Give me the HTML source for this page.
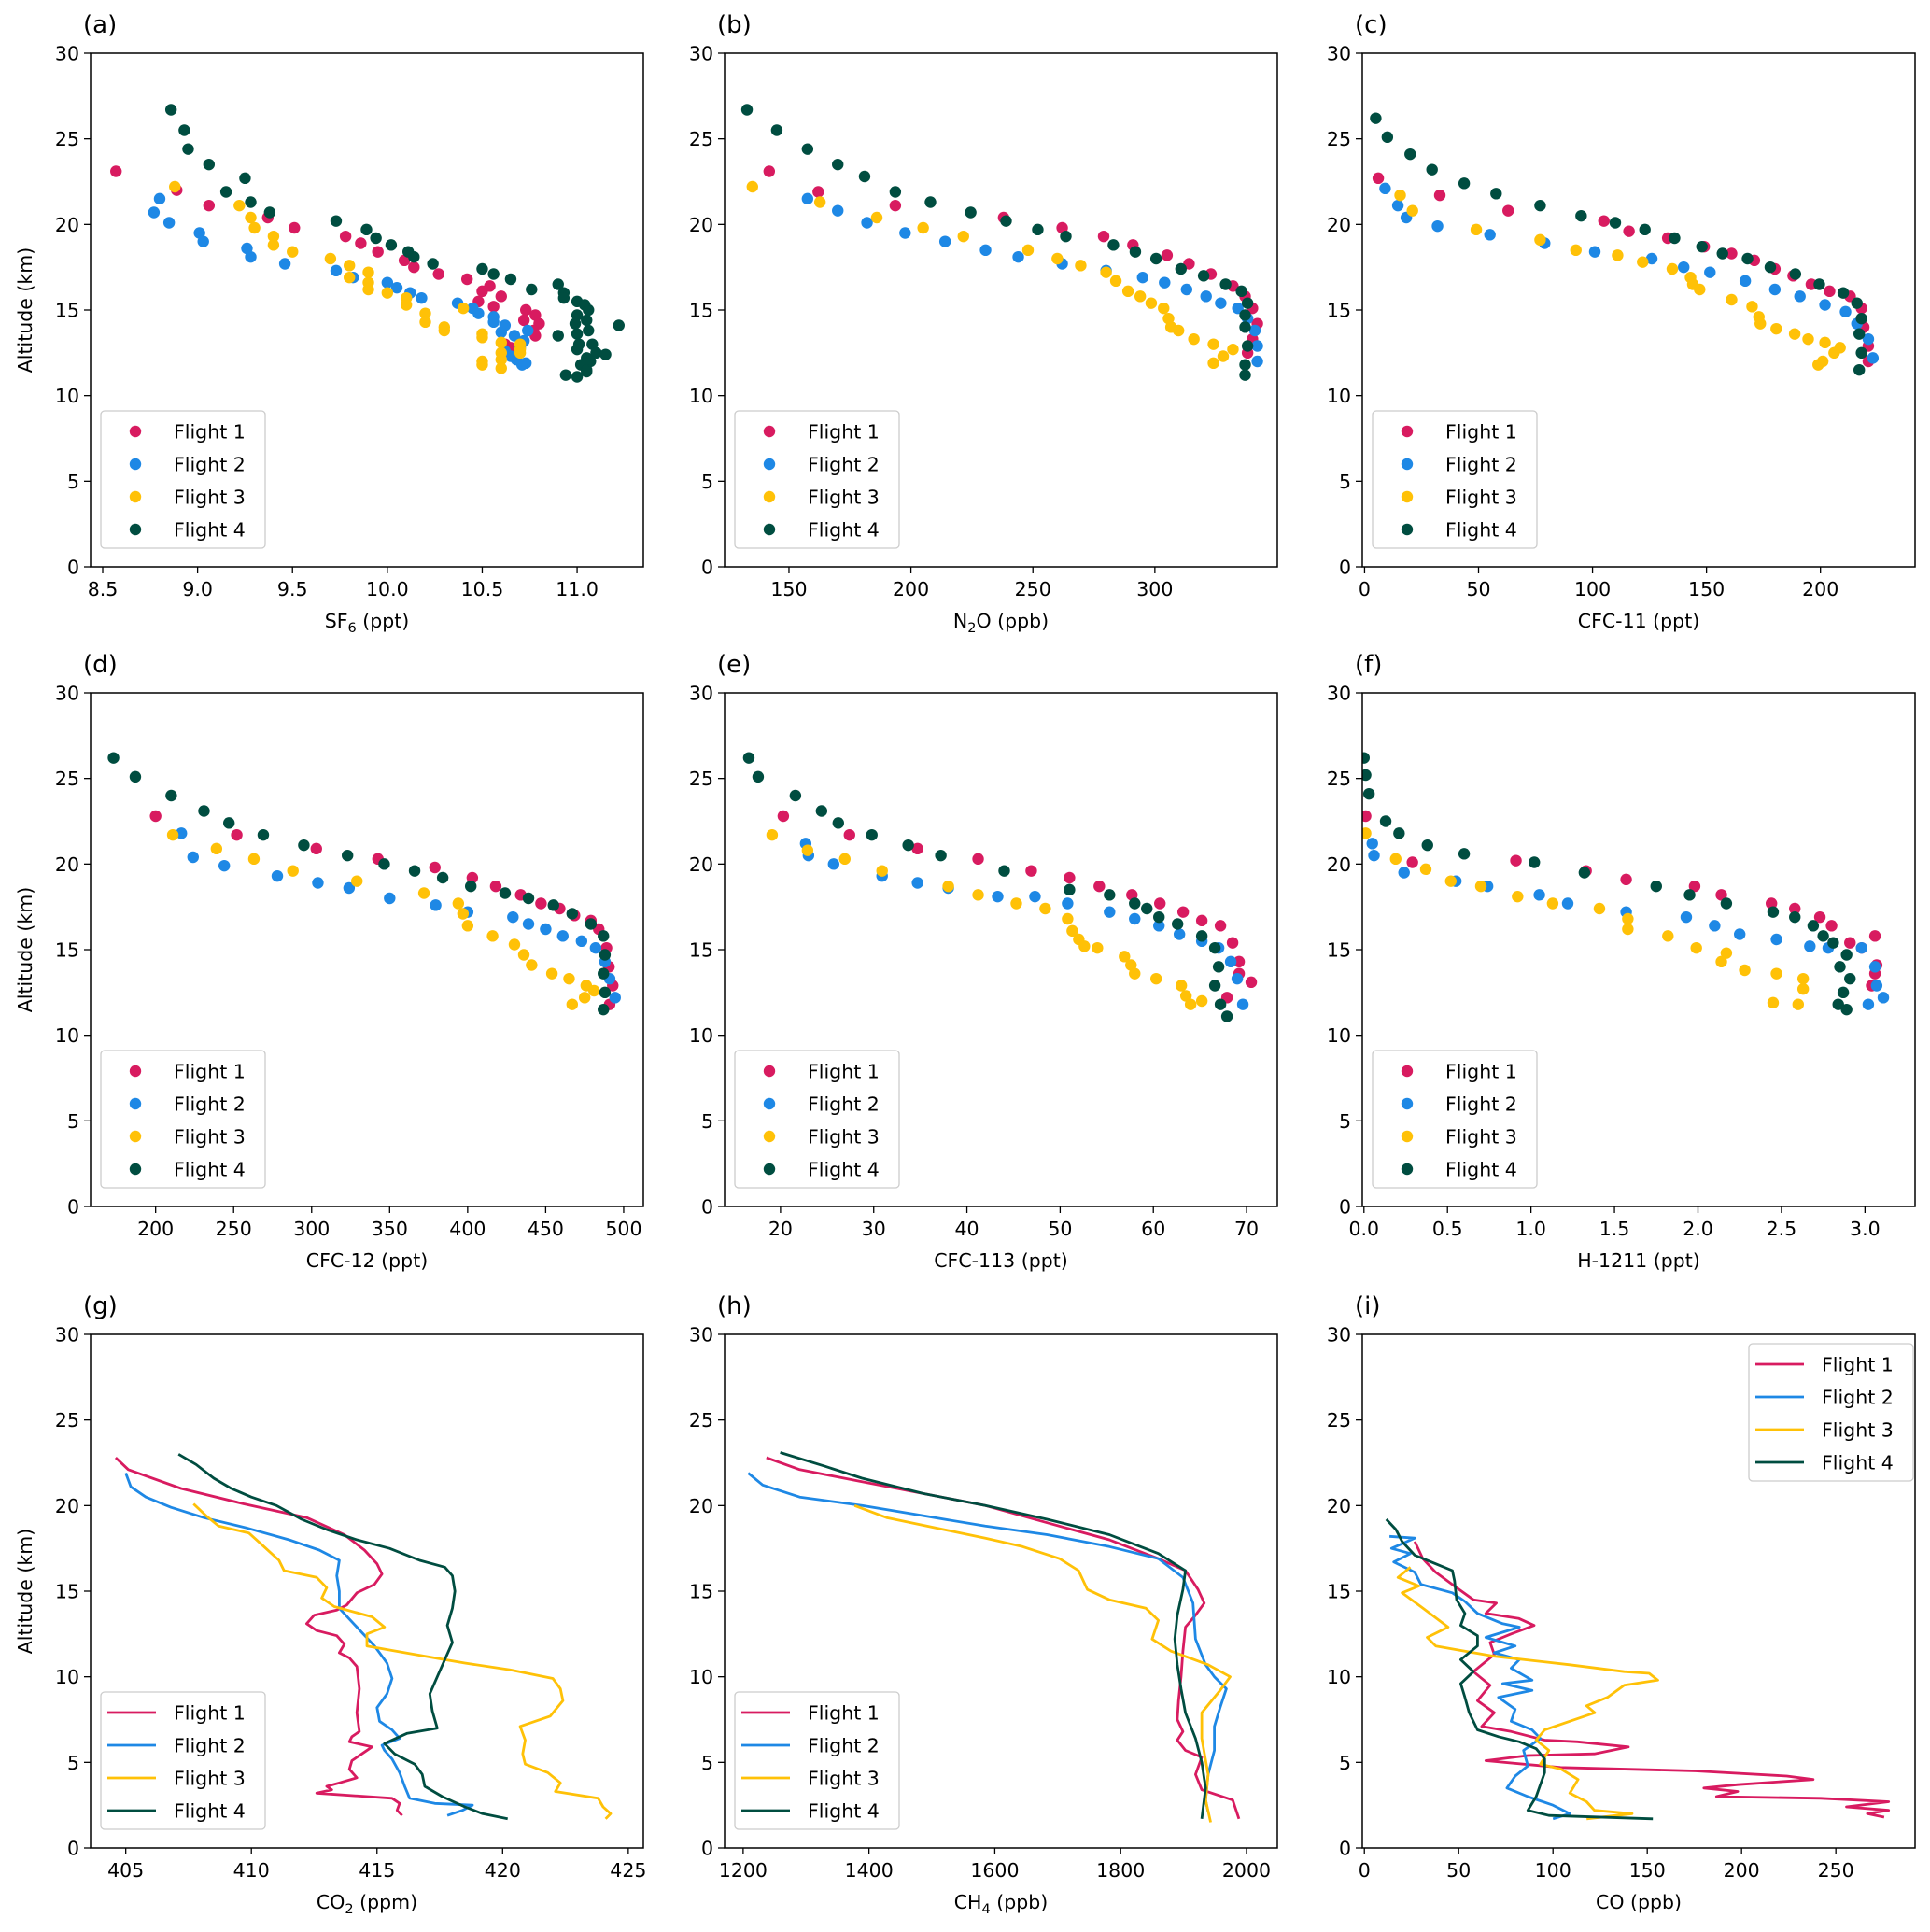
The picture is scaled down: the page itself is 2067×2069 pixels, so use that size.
<!DOCTYPE html>
<html><head><meta charset="utf-8"><style>
html,body{margin:0;padding:0;background:#fff;}
svg{display:block;font-family:"DejaVu Sans","Liberation Sans",sans-serif;}
</style></head><body>
<svg id="fig" width="2067" height="2069" viewBox="0 0 2067 2069" xmlns="http://www.w3.org/2000/svg"></svg>
<script>
const COLORS=["#d81b60","#1e88e5","#ffc107","#004d40"];
const flightNames=["Flight 1","Flight 2","Flight 3","Flight 4"];
const altTicks=[0,5,10,15,20,25,30];
// (a) SF6
const sf6F1=[[8.57,23.1],[8.89,22.0],[9.06,21.1],[9.37,20.4],[9.51,19.8],[9.78,19.3],[9.86,18.9],[9.95,18.4],[10.09,17.9],[10.14,17.5],[10.27,17.1],[10.42,16.8],[10.5,16.1],[10.54,16.4],[10.48,15.5],[10.56,15.2],[10.6,15.8],[10.73,15.0],[10.78,14.7],[10.72,14.4],[10.8,14.2],[10.77,13.8],[10.78,13.5],[10.62,13.0],[10.65,12.8],[10.7,12.9]];
const sf6F2=[[8.77,20.7],[8.8,21.5],[8.85,20.1],[9.01,19.5],[9.03,19.0],[9.26,18.6],[9.28,18.1],[9.46,17.7],[9.73,17.3],[9.82,16.9],[10.0,16.6],[10.05,16.3],[10.12,16.0],[10.18,15.7],[10.37,15.4],[10.45,15.1],[10.48,14.8],[10.56,14.6],[10.56,14.3],[10.62,14.1],[10.6,13.7],[10.67,13.5],[10.74,13.8],[10.72,13.2],[10.7,12.8],[10.65,12.3],[10.68,12.1],[10.71,11.8],[10.73,11.9],[10.62,12.6]];
const sf6F3=[[8.88,22.2],[9.22,21.1],[9.28,20.4],[9.3,19.8],[9.4,19.3],[9.4,18.8],[9.5,18.4],[9.7,18.0],[9.8,17.6],[9.8,16.9],[9.9,17.2],[9.9,16.6],[9.9,16.2],[10.0,16.0],[10.1,15.7],[10.1,15.3],[10.2,14.8],[10.2,14.3],[10.3,14.0],[10.3,13.8],[10.4,15.1],[10.5,13.6],[10.5,13.4],[10.5,12.0],[10.5,11.8],[10.6,13.1],[10.6,12.5],[10.6,12.1],[10.6,11.6],[10.7,13.0],[10.7,12.7],[10.7,12.5]];
const sf6F4=[[8.86,26.7],[8.93,25.5],[8.95,24.4],[9.06,23.5],[9.25,22.7],[9.15,21.9],[9.28,21.3],[9.38,20.7],[9.73,20.2],[9.89,19.7],[9.94,19.2],[10.02,18.8],[10.11,18.4],[10.14,18.1],[10.24,17.7],[10.5,17.4],[10.56,17.1],[10.65,16.8],[10.76,16.2],[10.9,16.5],[10.93,16.0],[10.93,15.7],[11.0,15.5],[11.04,15.3],[11.06,15.0],[11.0,14.7],[11.05,14.4],[10.99,14.2],[11.22,14.1],[10.9,13.5],[11.0,13.6],[11.06,13.8],[11.01,13.0],[11.08,13.0],[11.0,12.7],[11.1,12.5],[11.15,12.4],[11.05,12.2],[11.07,12.0],[11.02,11.8],[11.05,11.5],[10.94,11.2],[11.0,11.1],[11.05,11.4]];
// (b) N2O
const n2oF1=[[141.9,23.1],[162,21.9],[193.6,21.1],[238,20.4],[262,19.8],[279,19.3],[291,18.8],[305,18.2],[314,17.7],[323,17.1],[332,16.4],[337,15.8],[340,15.1],[342,14.2],[340,13.3],[338,12.5]];
const n2oF2=[[157.6,21.5],[170,20.8],[182,20.1],[197.6,19.5],[214,19.0],[230.6,18.5],[244,18.1],[262,17.7],[280,17.3],[295,16.9],[304,16.6],[313,16.2],[321,15.8],[327,15.4],[334,15.1],[338,14.5],[341,13.8],[342,12.9],[342,12.0]];
const n2oF3=[[135,22.2],[162.7,21.3],[186,20.4],[205,19.8],[221.5,19.3],[248,18.5],[260,18.0],[269.6,17.6],[280,17.2],[284,16.7],[289,16.1],[294,15.8],[298.5,15.4],[303.6,15.1],[305.6,14.5],[306.6,14.0],[309.7,13.8],[316,13.3],[324,13.0],[332,12.7],[328,12.3],[324,11.9]];
const n2oF4=[[132.8,26.7],[145,25.5],[157.6,24.4],[170,23.5],[181,22.8],[193.6,21.9],[208,21.3],[224.5,20.7],[239,20.2],[252,19.7],[263.5,19.3],[283,18.8],[292,18.4],[300.5,18.0],[310.7,17.4],[320,17.0],[329,16.5],[335.5,16.1],[338,15.4],[337,14.7],[337,14.0],[338,12.9],[337,11.8],[337,11.2]];
// (c) CFC-11
const c11F1=[[6,22.7],[33,21.7],[63,20.8],[105,20.2],[116,19.6],[133,19.2],[149,18.7],[161,18.3],[171,17.9],[180,17.4],[188,17.0],[196,16.5],[204,16.1],[213,15.8],[218,15.1],[219,14.0],[221,12.9],[221,12.0]];
const c11F2=[[9,22.1],[14.6,21.1],[18.3,20.4],[32,19.9],[55,19.4],[79,18.9],[101,18.4],[126,18.0],[140,17.5],[151.5,17.2],[167,16.7],[180,16.2],[191,15.8],[202,15.3],[211,14.9],[216,14.2],[221,13.3],[223,12.2]];
const c11F3=[[15.6,21.7],[21,20.8],[49,19.7],[77,19.1],[92.7,18.5],[111,18.2],[122,17.8],[135,17.4],[143,16.9],[144,16.5],[147,16.2],[161,15.6],[170,15.2],[173,14.6],[173.6,14.2],[180.6,13.9],[188.7,13.6],[194.6,13.3],[202,13.1],[208.6,12.8],[206,12.5],[201,12.0],[199,11.8]];
const c11F4=[[4.9,26.2],[10,25.1],[20,24.1],[29.6,23.2],[43.7,22.4],[57.7,21.8],[77,21.1],[95,20.5],[110,20.1],[123,19.7],[136,19.2],[148,18.7],[157,18.3],[168,18.0],[178,17.5],[189,17.1],[199.5,16.5],[210,16.0],[216,15.4],[218,14.5],[217,13.6],[218,12.5],[217,11.5]];
// (d) CFC-12
const c12F1=[[200,22.8],[252,21.7],[303,20.9],[342.5,20.3],[379,19.8],[403,19.2],[418,18.7],[434,18.2],[447,17.7],[459,17.4],[468.5,17.0],[479,16.7],[484,16.2],[489,15.1],[490.6,14.0],[493,12.9],[491,11.8]];
const c12F2=[[216.5,21.8],[224,20.4],[244,19.9],[278,19.3],[304,18.9],[324,18.6],[350,18.0],[379.5,17.6],[400,17.2],[429,16.9],[439,16.5],[450,16.2],[461,15.8],[473,15.5],[482,15.1],[488,14.3],[491,13.3],[494.5,12.2]];
const c12F3=[[211,21.7],[239,20.9],[263,20.3],[288,19.6],[329,19.0],[372,18.3],[394,17.7],[397,17.1],[400,16.4],[416,15.8],[430,15.3],[436,14.7],[441,14.1],[454,13.6],[465,13.3],[476,12.9],[481,12.6],[475,12.2],[467,11.8]];
const c12F4=[[173,26.2],[187,25.1],[210,24.0],[231,23.1],[247,22.4],[269,21.7],[295,21.1],[323,20.5],[346.5,20.0],[366,19.6],[384,19.2],[402,18.7],[424,18.3],[439,18.0],[455,17.6],[467,17.1],[479,16.5],[487,15.8],[488,14.7],[487,13.6],[488,12.5],[487,11.5]];
// (e) CFC-113
const c113F1=[[20.3,22.8],[27.4,21.7],[34.7,20.9],[41.2,20.3],[46.9,19.6],[51,19.2],[54.2,18.7],[57.7,18.2],[60.7,17.7],[63.2,17.2],[65.2,16.7],[67.2,16.4],[68.5,15.4],[69.2,14.3],[69.2,13.6],[70.5,13.1],[67.9,12.2]];
const c113F2=[[22.7,21.2],[23,20.5],[25.7,20.0],[30.9,19.3],[34.7,18.9],[38,18.6],[43.3,18.1],[47.3,18.1],[50.8,17.7],[55.3,17.2],[58,16.8],[60.6,16.4],[62.8,15.9],[65.2,15.5],[67,15.1],[68.3,14.3],[69,13.3],[69.6,11.8]];
const c113F3=[[19.1,21.7],[22.9,20.8],[26.9,20.3],[30.9,19.6],[38,18.7],[41.2,18.2],[45.3,17.7],[48.4,17.4],[50.8,16.8],[51.3,16.1],[52,15.6],[52.6,15.2],[54,15.1],[56.9,14.6],[57.6,14.1],[58,13.6],[60.3,13.3],[63,12.9],[63.5,12.3],[64,11.8],[65.2,12.0]];
const c113F4=[[16.6,26.2],[17.6,25.1],[21.6,24.0],[24.4,23.1],[26.2,22.4],[29.8,21.7],[33.7,21.1],[37.2,20.5],[44,19.6],[51,18.5],[55.3,18.2],[58,17.7],[59.3,17.4],[60.6,16.9],[62.6,16.5],[65.2,15.8],[66.6,15.1],[67,14.0],[66.6,12.9],[67.2,11.8],[67.9,11.1]];
// (f) H-1211
const h1211F1=[[0.01,22.8],[0.29,20.1],[0.91,20.2],[1.33,19.6],[1.57,19.1],[1.98,18.7],[2.14,18.2],[2.44,17.7],[2.58,17.4],[2.73,16.9],[2.8,16.4],[2.91,15.4],[2.98,15.1],[3.06,15.8],[3.07,14.1],[3.06,13.6],[3.04,12.9]];
const h1211F2=[[0.05,21.2],[0.06,20.5],[0.24,19.5],[0.55,19.0],[0.74,18.7],[1.05,18.2],[1.22,17.7],[1.57,17.2],[1.93,16.9],[2.1,16.4],[2.25,15.9],[2.47,15.6],[2.67,15.2],[2.78,15.1],[2.98,15.1],[3.06,14.0],[3.07,12.9],[3.02,11.8],[3.11,12.2]];
const h1211F3=[[0.01,21.8],[0.19,20.3],[0.37,19.7],[0.52,19.0],[0.7,18.7],[0.92,18.1],[1.13,17.7],[1.41,17.4],[1.58,16.8],[1.58,16.2],[1.82,15.8],[1.99,15.1],[2.17,14.8],[2.14,14.3],[2.28,13.8],[2.47,13.6],[2.63,13.3],[2.63,12.7],[2.45,11.9],[2.6,11.8]];
const h1211F4=[[0.0,26.2],[0.01,25.2],[0.03,24.1],[0.13,22.5],[0.21,21.8],[0.38,21.1],[0.6,20.6],[1.02,20.1],[1.32,19.5],[1.75,18.7],[1.95,18.2],[2.17,17.7],[2.45,17.2],[2.58,16.9],[2.69,16.4],[2.75,15.8],[2.81,15.4],[2.89,14.7],[2.85,14.0],[2.91,13.3],[2.87,12.5],[2.84,11.8],[2.89,11.5]];
// (g) CO2
const co2F1=[[404.6,22.8],[405.1,22.1],[407.2,21.0],[409.7,20.1],[412.2,19.3],[413.7,18.3],[414.5,17.4],[415.0,16.6],[415.2,16.0],[414.9,15.4],[414.2,14.9],[413.8,14.2],[413.4,13.9],[412.5,13.6],[412.2,13.1],[412.6,12.7],[413.4,12.4],[413.7,11.9],[413.5,11.4],[413.9,11.1],[414.2,10.6],[414.3,9.3],[414.2,7.9],[414.3,6.8],[414.0,6.5],[413.9,6.2],[414.8,5.9],[414.4,5.5],[414.0,5.1],[413.9,4.6],[414.2,4.1],[413.5,3.8],[413.0,3.6],[413.2,3.4],[412.6,3.2],[415.6,2.9],[415.9,2.6],[415.8,2.2],[416.0,1.9]];
const co2F2=[[405.0,21.9],[405.2,21.1],[405.8,20.5],[406.8,19.9],[408.1,19.3],[409.8,18.7],[411.5,18.0],[412.7,17.4],[413.5,16.8],[413.4,15.9],[413.5,15.0],[413.5,14.0],[414.2,12.9],[414.9,11.8],[415.4,10.8],[415.6,9.9],[415.4,9.0],[415.0,8.2],[415.1,7.4],[415.6,6.9],[415.9,6.4],[415.2,6.0],[415.3,5.7],[415.6,5.2],[415.9,4.4],[416.1,3.6],[416.3,2.9],[417.3,2.6],[418.8,2.5],[418.4,2.2],[417.8,1.9]];
const co2F3=[[407.7,20.1],[408.2,19.4],[408.7,18.8],[409.9,18.4],[410.5,17.6],[411.1,16.8],[411.3,16.2],[412.6,15.8],[413.0,15.2],[412.8,14.6],[413.3,14.1],[414.8,13.5],[415.3,12.9],[414.6,12.5],[414.6,11.8],[416.5,11.3],[418.5,10.8],[420.3,10.4],[422.0,9.9],[422.3,9.3],[422.4,8.6],[421.9,7.7],[420.7,7.1],[420.9,6.3],[420.8,5.5],[420.9,4.9],[421.8,4.4],[422.3,3.8],[422.1,3.3],[423.8,2.9],[424.0,2.4],[424.3,2.0],[424.1,1.7]];
const co2F4=[[407.1,23.0],[407.8,22.4],[408.5,21.6],[409.2,21.0],[410.0,20.5],[411.0,20.0],[412.0,19.2],[413.0,18.6],[414.2,18.0],[415.5,17.5],[416.7,16.8],[417.7,16.4],[418.0,15.9],[418.1,15.0],[418.0,14.0],[417.8,13.0],[418.0,12.0],[417.7,11.0],[417.4,10.0],[417.1,9.0],[417.2,8.0],[417.4,7.0],[416.2,6.7],[415.3,6.1],[415.7,5.5],[416.5,4.9],[416.8,4.3],[416.9,3.6],[417.6,3.0],[418.5,2.4],[419.2,2.0],[420.2,1.7]];
// (h) CH4
const ch4F1=[[1237,22.8],[1290,22.1],[1389,21.4],[1487,20.7],[1585,20.0],[1683,19.0],[1782,18.0],[1860,16.9],[1903,16.2],[1923,15.1],[1933,14.3],[1919,13.6],[1903,12.9],[1899,11.5],[1896,10.0],[1892,8.6],[1890,7.5],[1899,6.8],[1890,6.3],[1903,5.7],[1929,5.3],[1919,4.3],[1929,3.4],[1978,2.8],[1988,1.7]];
const ch4F2=[[1208,21.9],[1231,21.2],[1290,20.5],[1389,20.0],[1487,19.4],[1585,18.8],[1683,18.3],[1782,17.6],[1860,16.9],[1899,15.8],[1915,14.3],[1919,12.2],[1935,10.7],[1949,10.0],[1968,9.3],[1958,8.2],[1949,7.1],[1949,5.7],[1939,4.3],[1935,2.8],[1939,2.1]];
const ch4F3=[[1377,20.0],[1428,19.3],[1506,18.7],[1585,18.1],[1644,17.6],[1703,16.9],[1733,16.2],[1747,15.1],[1782,14.5],[1840,14.0],[1860,13.3],[1850,12.2],[1880,11.5],[1939,10.7],[1974,10.0],[1958,9.2],[1929,7.9],[1929,6.4],[1939,4.3],[1935,2.8],[1943,1.5]];
const ch4F4=[[1259,23.1],[1330,22.3],[1389,21.6],[1487,20.7],[1585,20.0],[1683,19.2],[1782,18.3],[1860,17.2],[1903,16.2],[1899,15.1],[1890,13.6],[1886,12.2],[1890,10.7],[1896,9.3],[1903,7.9],[1919,6.4],[1929,5.0],[1935,3.5],[1929,1.7]];
// (i) CO
const coF1=[[26.7,17.9],[31,16.9],[37.8,16.1],[48.9,15.2],[57.8,14.5],[70,14.3],[64.4,13.7],[82,13.4],[90,13.0],[77.8,12.5],[66.7,12.0],[68.9,11.3],[57.8,10.3],[66.7,9.5],[60,8.6],[68.9,7.9],[62.2,7.1],[77.8,6.8],[95.6,6.3],[113,6.2],[140,5.9],[122,5.5],[86.7,5.4],[64.4,5.1],[104,4.7],[175.6,4.5],[224,4.2],[238,4.0],[198,3.7],[180,3.5],[198,3.3],[186.7,3.0],[242,2.9],[278,2.7],[255.6,2.4],[278,2.2],[266.7,2.0],[275.6,1.8]];
const coF2=[[13.3,18.2],[26.7,18.1],[14.4,17.5],[24.4,17.2],[15.6,16.7],[26.7,16.1],[30,15.4],[46.7,14.9],[53.3,14.4],[60,13.7],[73.3,13.1],[82.2,12.9],[64.4,12.3],[80,11.8],[68.9,11.4],[82.2,11.0],[77.8,10.5],[88.9,9.8],[73.3,9.6],[88.9,9.2],[71.1,8.8],[80,8.1],[77.8,7.4],[88.9,6.9],[93.3,6.4],[84.4,5.7],[86.7,4.8],[80,4.2],[75.6,3.5],[86.7,3.0],[100,2.5],[108.9,2.0],[100,1.7]];
const coF3=[[24.4,16.4],[17.8,15.8],[28.9,15.3],[20,14.9],[31.1,14.0],[44.4,12.9],[33.3,12.3],[37.8,11.8],[53.3,11.5],[68.9,11.2],[108.9,10.7],[137.8,10.3],[151,10.2],[155.6,9.8],[137.8,9.5],[128.9,8.8],[117.8,8.3],[122.2,7.9],[108.9,7.4],[95.6,6.9],[91.1,6.3],[97.8,5.7],[93.3,4.9],[104.4,4.6],[113.3,4.0],[108.9,3.2],[117.8,2.7],[122,2.2],[142,2.0],[117.8,1.7]];
const coF4=[[11.6,19.2],[16.7,18.6],[20,17.9],[26.7,17.1],[37.8,16.6],[46.7,16.2],[47.8,15.6],[48.9,14.5],[53.3,13.7],[51.1,13.0],[60,12.4],[60,11.8],[51.1,11.0],[57.8,10.3],[51.1,9.6],[53.3,8.8],[55.6,7.9],[60,6.9],[71.1,6.5],[82.2,6.2],[91.1,5.8],[95.6,5.2],[95.6,4.4],[93.3,3.7],[91.1,3.0],[86.7,2.2],[97.8,1.9],[153,1.7]];

const panels=[
 {id:"a",col:0,row:0,xmin:8.436,xmax:11.349,ticks:[8.5,9.0,9.5,10.0,10.5,11.0],dec:1,lab:["SF","6"," (ppt)"],type:"scatter",series:[sf6F1,sf6F2,sf6F3,sf6F4],leg:"bl"},
 {id:"b",col:1,row:0,xmin:123.6,xmax:350.2,ticks:[150,200,250,300],dec:0,lab:["N","2","O (ppb)"],type:"scatter",series:[n2oF1,n2oF2,n2oF3,n2oF4],leg:"bl"},
 {id:"c",col:2,row:0,xmin:-1,xmax:241.5,ticks:[0,50,100,150,200],dec:0,lab:["CFC-11 (ppt)"],type:"scatter",series:[c11F1,c11F2,c11F3,c11F4],leg:"bl"},
 {id:"d",col:0,row:1,xmin:158.3,xmax:512.6,ticks:[200,250,300,350,400,450,500],dec:0,lab:["CFC-12 (ppt)"],type:"scatter",series:[c12F1,c12F2,c12F3,c12F4],leg:"bl"},
 {id:"e",col:1,row:1,xmin:14.0,xmax:73.3,ticks:[20,30,40,50,60,70],dec:0,lab:["CFC-113 (ppt)"],type:"scatter",series:[c113F1,c113F2,c113F3,c113F4],leg:"bl"},
 {id:"f",col:2,row:1,xmin:-0.01,xmax:3.30,ticks:[0,0.5,1,1.5,2,2.5,3],dec:1,lab:["H-1211 (ppt)"],type:"scatter",series:[h1211F1,h1211F2,h1211F3,h1211F4],leg:"bl"},
 {id:"g",col:0,row:2,xmin:403.6,xmax:425.6,ticks:[405,410,415,420,425],dec:0,lab:["CO","2"," (ppm)"],type:"line",series:[co2F1,co2F2,co2F3,co2F4],leg:"bl"},
 {id:"h",col:1,row:2,xmin:1170.5,xmax:2049,ticks:[1200,1400,1600,1800,2000],dec:0,lab:["CH","4"," (ppb)"],type:"line",series:[ch4F1,ch4F2,ch4F3,ch4F4],leg:"bl"},
 {id:"i",col:2,row:2,xmin:-1.1,xmax:292,ticks:[0,50,100,150,200,250],dec:0,lab:["CO (ppb)"],type:"line",series:[coF1,coF2,coF3,coF4],leg:"tr"}
];
const NS="http://www.w3.org/2000/svg";
const svg=document.getElementById("fig");
const colL=[97,776,1459], rowT=[57,742,1429], W=592, H=550;
function mk(tag,attrs,parent){const e=document.createElementNS(NS,tag);for(const k in attrs)e.setAttribute(k,attrs[k]);(parent||svg).appendChild(e);return e;}
panels.forEach(p=>{
 const L=colL[p.col],T=rowT[p.row];
 const sx=v=>L+(v-p.xmin)/(p.xmax-p.xmin)*W;
 const sy=v=>T+H-(v/30)*H;
 const g=mk("g",{});
 
 
 const pl=mk("text",{x:L-8,y:T-22,"font-size":26},g);pl.textContent="("+p.id+")";
 
 
 const ya=mk("g",{},g);
 
 
 altTicks.forEach(t=>{const y=sy(t);mk("line",{x1:L-7,x2:L,y1:y,y2:y,stroke:"#000","stroke-width":1.3},ya);
  const tx=mk("text",{x:L-12,y:y+7.5,"font-size":20.5,"text-anchor":"end"},ya);tx.textContent=t;});
 if(p.col===0){const yl=mk("text",{x:0,y:0,"font-size":20.5,"text-anchor":"middle",transform:`translate(34,${T+H/2}) rotate(-90)`},g);yl.textContent="Altitude (km)";
  
  }
 const xa=mk("g",{},g);
 
 
 p.ticks.forEach(t=>{const x=sx(t);mk("line",{x1:x,x2:x,y1:T+H,y2:T+H+7,stroke:"#000","stroke-width":1.3},xa);
  const tx=mk("text",{x:x,y:T+H+31,"font-size":20.5,"text-anchor":"middle"},xa);tx.textContent=t.toFixed(p.dec);});
 const xl=mk("text",{x:L+W/2,y:T+H+65,"font-size":20.5,"text-anchor":"middle"},g);
 
 
 if(p.lab.length===1){xl.textContent=p.lab[0];}else{
  const a=document.createElementNS(NS,"tspan");a.textContent=p.lab[0];xl.appendChild(a);
  const b=document.createElementNS(NS,"tspan");b.setAttribute("font-size","14.5");b.setAttribute("dy","5");b.textContent=p.lab[1];xl.appendChild(b);
  const c=document.createElementNS(NS,"tspan");c.setAttribute("dy","-5");c.textContent=p.lab[2];xl.appendChild(c);}
 const cp=mk("clipPath",{id:"clip"+p.id},g);mk("rect",{x:L,y:T,width:W,height:H},cp);
 const dg=mk("g",{"clip-path":`url(#clip${p.id})`},g);
 p.series.forEach((s,i)=>{
  if(p.type==="scatter"){
   s.forEach(pt=>{const c=mk("circle",{cx:sx(pt[0]),cy:sy(pt[1]),r:6.2,fill:COLORS[i]},dg);
    
    });
  }else{
   const d=s.map((pt,k)=>(k?"L":"M")+sx(pt[0]).toFixed(1)+","+sy(pt[1]).toFixed(1)).join("");
   const pa=mk("path",{d:d,fill:"none",stroke:COLORS[i],"stroke-width":2.8,"stroke-linejoin":"round"},dg);
   
   
  }
 });
 const fr=mk("rect",{x:L,y:T,width:W,height:H,fill:"none",stroke:"#000","stroke-width":1.5},g);
 
 
 const lg=mk("g",{},g);
 
 
 let bx,by; if(p.leg==="bl"){bx=L+11;by=T+H-167;}else{bx=L+W-178;by=T+10;}
 mk("rect",{x:bx,y:by,width:176,height:147,rx:4,fill:"#fff","fill-opacity":0.8,stroke:"#ccc","stroke-width":1.3},lg);
 flightNames.forEach((n,i)=>{const cy=by+22+i*35;
  const e=mk("g",{},lg);
  
  
  if(p.type==="scatter")mk("circle",{cx:bx+37,cy:cy,r:6.2,fill:COLORS[i]},e);
  else mk("line",{x1:bx+7,x2:bx+59,y1:cy,y2:cy,stroke:COLORS[i],"stroke-width":2.8},e);
  const t=mk("text",{x:bx+78,y:cy+7.5,"font-size":20.5},e);t.textContent=n;});
});
</script>
</body></html>
